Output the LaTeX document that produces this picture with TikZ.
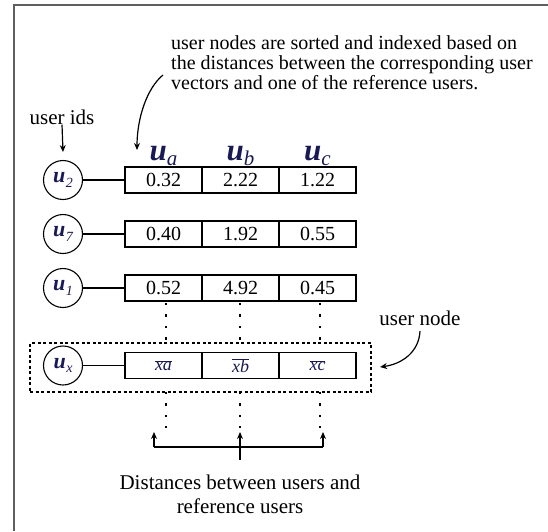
\documentclass[tikz,border=0pt]{standalone}
\usepackage{fontspec}
\setmainfont{Liberation Serif}
\usetikzlibrary{arrows.meta}
\definecolor{idink}{RGB}{25,25,85}
\definecolor{framegray}{RGB}{95,95,95}
\newcommand{\uid}[1]{{\fontsize{22}{22}\selectfont\bfseries\itshape\color{idink}u\kern0.5pt\raisebox{-0.45ex}{\fontsize{14}{14}\selectfont\mdseries #1}}}
\newcommand{\uhead}[1]{{\fontsize{31}{31}\selectfont\bfseries\itshape\color{idink}u\raisebox{-0.4ex}{\fontsize{21}{21}\selectfont\mdseries #1}}}
\newcommand{\xbar}[1]{{\color{idink}$\overline{\hbox{\fontsize{18}{18}\selectfont\itshape #1}}$}}
\tikzset{
  x=1pt, y=-1pt,
  cell/.style={draw, line width=1.3pt, minimum width=77pt, minimum height=26pt,
    inner sep=0pt, font=\fontsize{20}{20}\selectfont},
  idcircle/.style={draw, circle, line width=1.1pt, minimum size=39pt, inner sep=0pt},
  link/.style={line width=1.1pt},
  dotcol/.style={line width=2.4pt, dash pattern=on 2.4pt off 9pt},
  ptr/.style={line width=1.2pt, -{Stealth[length=7pt,width=6pt]}},
  note/.style={font=\fontsize{21}{19}\selectfont, inner sep=0pt},
}
\begin{document}
\begin{tikzpicture}
\useasboundingbox (0,0) rectangle (548,531);
% frame edges
\draw[framegray, line width=2.4pt] (14,531) -- (14,5) -- (548,5);

% explanatory note with its pointer
\node[note, font=\fontsize{20}{20}\selectfont, anchor=north west, align=left] (sortnote) at (171,35)
  {user nodes are sorted and indexed based on\\
   the distances between the corresponding user\\
   vectors and one of the reference users.};
\coordinate (noteptr) at (163,75);
\coordinate (notetip) at (137,150);
\draw[ptr] (noteptr) .. controls (147,88) and (137,118) .. (notetip);

% user ids label
\node[note] (idlabel) at (62,117) {user ids};
\coordinate (idtip) at (63,152);
\draw[ptr] (idlabel.south) ++(0,0) coordinate (idtop) -- (idtip);

% column headers
\node (ha) at (163.5,156) {\uhead{a}};
\node (hb) at (240.5,156) {\uhead{b}};
\node (hc) at (317.5,156) {\uhead{c}};

% indexed user rows
\foreach \r/\y/\id/\va/\vb/\vc in {1/180/2/0.32/2.22/1.22, 2/234/7/0.40/1.92/0.55, 3/288/1/0.52/4.92/0.45}{
  \node[idcircle] (c\r) at (63,\y) {\uid{\id}};
  \node[cell] (r\r a) at (163.5,\y) {\va};
  \node[cell] (r\r b) at (240.5,\y) {\vb};
  \node[cell] (r\r c) at (317.5,\y) {\vc};
  \draw[link] (c\r) -- (r\r a);
}

% generic user node
\node[draw, line width=1.4pt, dash pattern=on 3pt off 2.5pt,
  minimum width=341pt, minimum height=49pt, inner sep=0pt] (ubox) at (200.5,367.5) {};
\node[idcircle] (cx) at (63,365.5) {\uid{x}};
\node[cell] (rxa) at (163.5,365.5) {\xbar{xa}};
\node[cell] (rxb) at (240.5,365.5) {\xbar{xb}};
\node[cell] (rxc) at (317.5,365.5) {\xbar{xc}};
\draw[link] (cx) -- (rxa);

% dotted continuation of the columns
\foreach \k/\xx in {a/166,b/240,c/320}{
  \coordinate (up\k) at (\xx,303);
  \coordinate (um\k) at (\xx,342);
  \coordinate (lo\k) at (\xx,392);
  \coordinate (lb\k) at (\xx,428);
  \draw[dotcol] (up\k) -- (um\k);
  \draw[dotcol] (lo\k) -- (lb\k);
}

% bracket pointing at the distance columns
\coordinate (ba) at (154,447);
\coordinate (bc) at (323,447);
\coordinate (bs) at (240,460);
\coordinate (ta) at (154,432);
\coordinate (tb) at (240,432);
\coordinate (tc) at (323,432);
\draw[line width=1.2pt] (ba) -- (bc);
\draw[ptr] (ba) -- (ta);
\draw[ptr] (bc) -- (tc);
\draw[ptr] (bs) -- (tb);
\node[note, align=center, font=\fontsize{21}{24}\selectfont] (dist) at (240,494)
  {Distances between users and\\reference users};

% label for the user node
\node[note] (unlabel) at (420,318) {user node};
\coordinate (unstart) at (420,331);
\coordinate (untip) at (380,367);
\draw[ptr] (unstart) .. controls (419,352) and (402,364) .. (untip);
\end{tikzpicture}
\end{document}
